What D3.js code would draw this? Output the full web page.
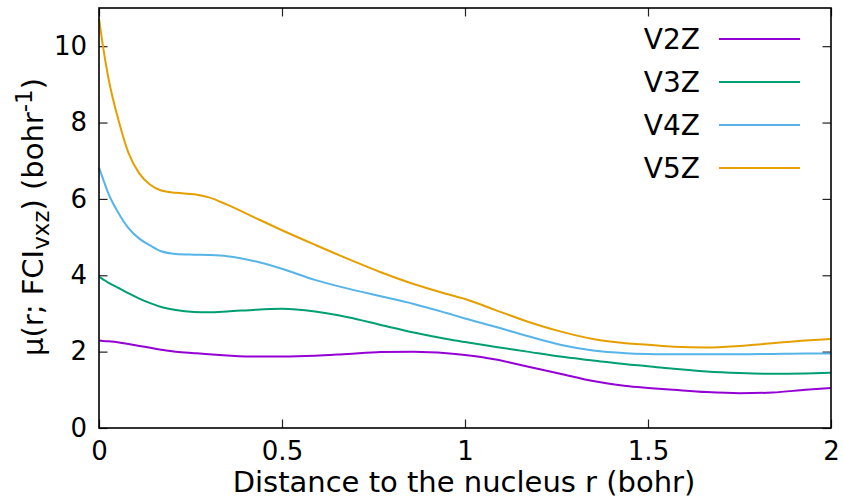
<!DOCTYPE html>
<html>
<head>
<meta charset="utf-8">
<script src="https://cdn.jsdelivr.net/npm/d3@7"></script>
<style>
  html, body { margin: 0; padding: 0; background: #fff; }
  svg { display: block; font-family: "DejaVu Sans", sans-serif; }
</style>
</head>
<body>
<svg id="chart" width="843" height="498"></svg>
<script>
// ---- data ----
const r   = [0, 0.01, 0.025, 0.055, 0.08, 0.11, 0.14, 0.17, 0.21, 0.26, 0.30, 0.35, 0.43, 0.50, 0.59, 0.68, 0.77, 0.86, 0.95, 1.00, 1.08, 1.17, 1.26, 1.35, 1.44, 1.50, 1.57, 1.66, 1.75, 1.84, 1.93, 2.00];
const v2z = [2.29, 2.28, 2.27, 2.24, 2.20, 2.15, 2.10, 2.05, 2.00, 1.96, 1.93, 1.90, 1.87, 1.87, 1.89, 1.94, 1.99, 2.00, 1.96, 1.91, 1.80, 1.61, 1.42, 1.23, 1.10, 1.05, 1.00, 0.94, 0.91, 0.93, 1.00, 1.05];
const v3z = [3.96, 3.90, 3.81, 3.66, 3.53, 3.39, 3.27, 3.17, 3.09, 3.04, 3.03, 3.05, 3.10, 3.12, 3.05, 2.90, 2.70, 2.50, 2.33, 2.25, 2.13, 2.00, 1.87, 1.77, 1.67, 1.62, 1.55, 1.48, 1.44, 1.42, 1.43, 1.45];
const v4z = [6.82, 6.55, 6.16, 5.60, 5.24, 4.96, 4.78, 4.63, 4.56, 4.54, 4.53, 4.50, 4.36, 4.17, 3.88, 3.65, 3.45, 3.25, 3.01, 2.87, 2.66, 2.41, 2.18, 2.03, 1.96, 1.94, 1.93, 1.93, 1.93, 1.94, 1.95, 1.95];
const v5z = [10.72, 10.05, 9.20, 8.00, 7.22, 6.67, 6.37, 6.22, 6.16, 6.12, 6.04, 5.85, 5.49, 5.18, 4.80, 4.43, 4.08, 3.77, 3.51, 3.38, 3.10, 2.79, 2.53, 2.33, 2.22, 2.18, 2.13, 2.11, 2.15, 2.22, 2.29, 2.33];
const seriesNames  = ["V2Z", "V3Z", "V4Z", "V5Z"];
const seriesColors = ["#9400d3", "#009e73", "#56b4e9", "#e69f00"];
const xTicks = [0, 0.5, 1, 1.5, 2];
const yTicks = [0, 2, 4, 6, 8, 10];

const seriesValues = [v2z, v3z, v4z, v5z];

// ---- layout ----
const L = 99, R = 831, T = 8, B = 428;
const svg = d3.select("#chart");
const x = d3.scaleLinear().domain([0, 2]).range([L, R]);
const y = d3.scaleLinear().domain([0, 11]).range([B, T]);

const tickLen = 8.5;

const gB = svg.append("g").attr("transform", `translate(0,${B})`)
  .call(d3.axisBottom(x).tickValues(xTicks).tickFormat(d3.format("")).tickSizeInner(-tickLen).tickSizeOuter(0).tickPadding(14));
const gL = svg.append("g").attr("transform", `translate(${L},0)`)
  .call(d3.axisLeft(y).tickValues(yTicks).tickFormat(d3.format("")).tickSizeInner(-tickLen).tickSizeOuter(0).tickPadding(12));
const gT = svg.append("g").attr("transform", `translate(0,${T})`)
  .call(d3.axisTop(x).tickValues(xTicks).tickFormat("").tickSizeInner(-tickLen).tickSizeOuter(0));
const gR = svg.append("g").attr("transform", `translate(${R},0)`)
  .call(d3.axisRight(y).tickValues(yTicks).tickFormat("").tickSizeInner(-tickLen).tickSizeOuter(0));

[gB, gL, gT, gR].forEach(g => {
  g.select(".domain").remove();
  g.selectAll(".tick line").attr("stroke", "#222").attr("stroke-width", 1.2);
  g.selectAll(".tick text").attr("fill", "#000").attr("font-size", 26).attr("font-family", "DejaVu Sans");
});

const line = d3.line().x((d) => x(d[0])).y((d) => y(d[1])).curve(d3.curveMonotoneX);
seriesValues.forEach((vals, i) => {
  svg.append("path")
    .datum(r.map((rv, j) => [rv, vals[j]]))
    .attr("fill", "none")
    .attr("stroke", seriesColors[i])
    .attr("stroke-width", 2)
    .attr("stroke-linejoin", "round")
    .attr("d", line);
});

svg.append("rect").attr("x", L).attr("y", T).attr("width", R - L).attr("height", B - T)
  .attr("fill", "none").attr("stroke", "#000").attr("stroke-width", 1.6);

seriesNames.forEach((name, i) => {
  const yy = 39 + i * 43;
  svg.append("text").attr("x", 700).attr("y", yy + 10).attr("text-anchor", "end")
    .attr("font-size", 28).attr("fill", "#000").text(name);
  svg.append("line").attr("x1", 719).attr("x2", 800).attr("y1", yy).attr("y2", yy)
    .attr("stroke", seriesColors[i]).attr("stroke-width", 2);
});

svg.append("text").attr("x", 464).attr("y", 492).attr("text-anchor", "middle")
  .attr("font-size", 29).attr("fill", "#000").text("Distance to the nucleus r (bohr)");

const yl = svg.append("text").attr("transform", "translate(43,217) rotate(-90)")
  .attr("text-anchor", "middle").attr("font-size", 29).attr("fill", "#000");
yl.append("tspan").text("μ(r; FCI");
yl.append("tspan").attr("font-size", 23).attr("dy", 6).text("vxz");
yl.append("tspan").attr("dy", -6).text(") (bohr");
yl.append("tspan").attr("font-size", 23).attr("dy", -11).text("-1");
yl.append("tspan").attr("dy", 11).text(")");
</script>
</body>
</html>
